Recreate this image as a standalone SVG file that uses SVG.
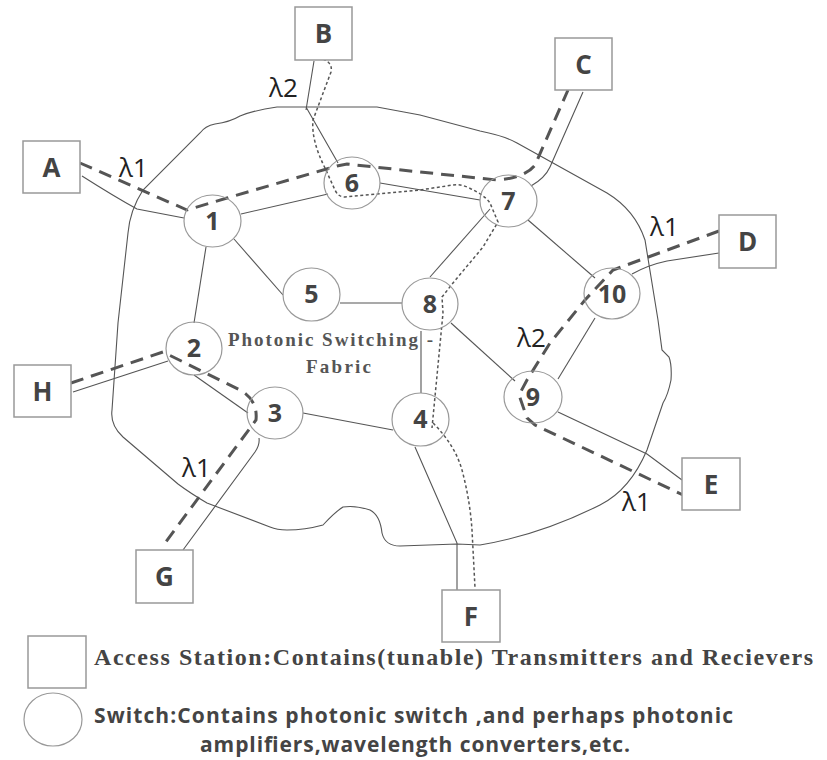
<svg xmlns="http://www.w3.org/2000/svg" width="827" height="760" viewBox="0 0 827 760">
  <style>
    .bg { fill: #ffffff; }
    .fabric { fill: none; stroke: #555; stroke-width: 1.1; }
    .link { fill: none; stroke: #555; stroke-width: 1.1; }
    .lam1 { fill: none; stroke: #555; stroke-width: 3; stroke-dasharray: 13 8; }
    .lam2 { fill: none; stroke: #555; stroke-width: 1.5; stroke-dasharray: 3 2.5; }
    .sw { fill: #ffffff; fill-opacity: 0; stroke: #999; stroke-width: 1.2; }
    .st { fill: #ffffff; stroke: #999; stroke-width: 1.5; }
    .num { font-family: "Open Sans", "DejaVu Sans", sans-serif; font-weight: bold; font-size: 25px; fill: #444; text-anchor: middle; }
    .let { font-family: "Open Sans", "DejaVu Sans", sans-serif; font-weight: bold; font-size: 26px; fill: #444; text-anchor: middle; }
    .lam { font-family: "Open Sans", "DejaVu Sans", sans-serif; font-size: 26px; fill: #222; }
    .core { font-family: "Liberation Serif", "Times New Roman", serif; font-weight: bold; font-size: 19px; fill: #555; }
    .leg1 { font-family: "Liberation Serif", "Times New Roman", serif; font-weight: bold; font-size: 24px; fill: #444; }
    .leg2 { font-family: "Open Sans", "DejaVu Sans", sans-serif; font-weight: bold; font-size: 21px; fill: #444; }
  </style>

  <rect class="bg" x="0" y="0" width="827" height="760"/>

  <!-- photonic switching fabric outline -->
  <path id="fabric" class="fabric" d="M 277 107 L 377 107 L 420 115 L 480 131 Q 505 136 517 143 L 607 193 Q 635 210 645 240 L 658 320 L 662 350 L 669 357 Q 672 365 671 380 Q 668 395 663 403 L 647 450 Q 630 490 600 505 Q 540 535 480 545 L 457 544 L 400 546 Q 385 546 382 533 Q 380 515 370 510 Q 355 505 343 507 Q 335 512 323 525 Q 305 530 287 530 Q 277 530 270 527 L 207 503 Q 190 493 178 484 L 123 437 Q 110 425 112 410 L 118 323 L 128 233 Q 130 210 143 190 L 200 133 Q 205 126 215 124 Q 230 122 240 116 Q 255 110 277 107 Z"/>

  <text class="core" x="228" y="346" textLength="205" lengthAdjust="spacing">Photonic Switching -</text>
  <text class="core" x="306" y="373" textLength="65" lengthAdjust="spacing">Fabric</text>

  <!-- fibre links and lightpaths -->
  <g id="connectors">
    <path class="link" d="M 82 176 Q 115 197 137 209 L 184 218"/>
    <path class="link" d="M 241 214 L 328 194"/>
    <path class="link" d="M 314 61 L 306 110 M 306 107 L 338 163"/>
    <path class="link" d="M 380 183 L 480 200"/>
    <path class="link" d="M 531 186 Q 545 178 550 167 L 583 92"/>
    <path class="link" d="M 490 209 L 430 277"/>
    <path class="link" d="M 528 220 L 595 278"/>
    <path class="link" d="M 632 274 Q 648 265 667 261 L 719 253"/>
    <path class="link" d="M 234 239 L 283 295"/>
    <path class="link" d="M 206 247 L 194 323"/>
    <path class="link" d="M 340 303 L 402 303"/>
    <path class="link" d="M 421 331 L 421 393"/>
    <path class="link" d="M 451 323 L 515 381"/>
    <path class="link" d="M 595 318 L 558 379"/>
    <path class="link" d="M 558 412 L 647 454 L 682 480"/>
    <path class="link" d="M 73 392 L 168 361"/>
    <path class="link" d="M 194 375 L 248 413"/>
    <path class="link" d="M 303 413 L 393 430"/>
    <path class="link" d="M 259 438 Q 260 445 255 452 L 183 550"/>
    <path class="link" d="M 415 447 L 457 543 L 457 590"/>

    <path class="lam1" d="M 80 163 L 187 210 L 227 198 L 337 166 L 347 164 L 420 172 L 497 180 Q 525 178 535 165 L 568 90"/>
    <path class="lam1" d="M 71 383 L 163 352 L 240 390 Q 258 400 256 420 L 165 543"/>
    <path class="lam1" d="M 719 231 L 613 270 L 585 300 L 550 343 L 527 380 L 519 395 L 527 418 L 535 425 L 683 495"/>

    <path class="lam2" d="M 323 59 Q 333 63 331 72 L 313 120 Q 311 140 325 168 L 335 190 Q 338 197 345 197 L 420 190 L 453 185 Q 460 184 467 187 Q 485 195 490 203 L 498 222 L 483 247 L 453 283 L 442 297 L 443 313 L 432 428"/>
    <path class="lam2" d="M 433 423 Q 455 445 462 470 Q 470 500 472 530 L 475 588"/>
  </g>

  <!-- switches -->
  <g id="sw1"><ellipse class="sw" cx="212.5" cy="221" rx="28.5" ry="26"/><text class="num" x="212.5" y="230">1</text></g>
  <g id="sw2"><ellipse class="sw" cx="194" cy="348.5" rx="28" ry="26.5"/><text class="num" x="194" y="357">2</text></g>
  <g id="sw3"><ellipse class="sw" cx="275" cy="413" rx="28" ry="26"/><text class="num" x="275" y="422">3</text></g>
  <g id="sw4"><ellipse class="sw" cx="420.5" cy="419.5" rx="28.5" ry="26.5"/><text class="num" x="420.5" y="428">4</text></g>
  <g id="sw5"><ellipse class="sw" cx="311.5" cy="294.5" rx="28.5" ry="26.5"/><text class="num" x="311.5" y="303">5</text></g>
  <g id="sw6"><ellipse class="sw" cx="352" cy="183" rx="28" ry="26"/><text class="num" x="352" y="192">6</text></g>
  <g id="sw7"><ellipse class="sw" cx="508.5" cy="201" rx="28.5" ry="26"/><text class="num" x="508.5" y="210">7</text></g>
  <g id="sw8"><ellipse class="sw" cx="430" cy="304" rx="28" ry="26"/><text class="num" x="430" y="313">8</text></g>
  <g id="sw9"><ellipse class="sw" cx="533" cy="397" rx="29" ry="26"/><text class="num" x="533" y="406">9</text></g>
  <g id="sw10"><ellipse class="sw" cx="612" cy="293.5" rx="28" ry="25.5"/><text class="num" x="612" y="303">10</text></g>

  <!-- access stations -->
  <g id="stA"><rect class="st" x="23" y="141" width="57" height="52"/><text class="let" x="51.5" y="176.5">A</text></g>
  <g id="stB"><rect class="st" x="295" y="7" width="57" height="53"/><text class="let" x="323.5" y="43">B</text></g>
  <g id="stC"><rect class="st" x="555" y="38" width="57" height="52"/><text class="let" x="583.5" y="73.5">C</text></g>
  <g id="stD"><rect class="st" x="719" y="215" width="57" height="53"/><text class="let" x="747.5" y="251">D</text></g>
  <g id="stE"><rect class="st" x="682" y="458" width="58" height="52"/><text class="let" x="711" y="493.5">E</text></g>
  <g id="stF"><rect class="st" x="442" y="590" width="58" height="52"/><text class="let" x="471" y="625.5">F</text></g>
  <g id="stG"><rect class="st" x="136" y="550" width="57" height="53"/><text class="let" x="164.5" y="586">G</text></g>
  <g id="stH"><rect class="st" x="14" y="365" width="57" height="52"/><text class="let" x="42.5" y="400.5">H</text></g>

  <!-- wavelength labels -->
  <g id="wavelengths">
    <text class="lam" x="119" y="177">λ1</text>
    <text class="lam" x="269" y="97">λ2</text>
    <text class="lam" x="650" y="236">λ1</text>
    <text class="lam" x="517" y="347">λ2</text>
    <text class="lam" x="622" y="511">λ1</text>
    <text class="lam" x="182" y="477">λ1</text>
  </g>

  <!-- legend -->
  <g id="legend">
    <rect class="st" x="28" y="636" width="58" height="52"/>
    <text class="leg1" x="94" y="665" textLength="719" lengthAdjust="spacing">Access Station:Contains(tunable) Transmitters and Recievers</text>
    <ellipse class="sw" cx="53" cy="719.5" rx="29" ry="26.5"/>
    <text class="leg2" x="94" y="723" textLength="639" lengthAdjust="spacing">Switch:Contains photonic switch ,and perhaps photonic</text>
    <text class="leg2" x="200" y="752" textLength="430" lengthAdjust="spacing">amplifiers,wavelength converters,etc.</text>
  </g>
</svg>
